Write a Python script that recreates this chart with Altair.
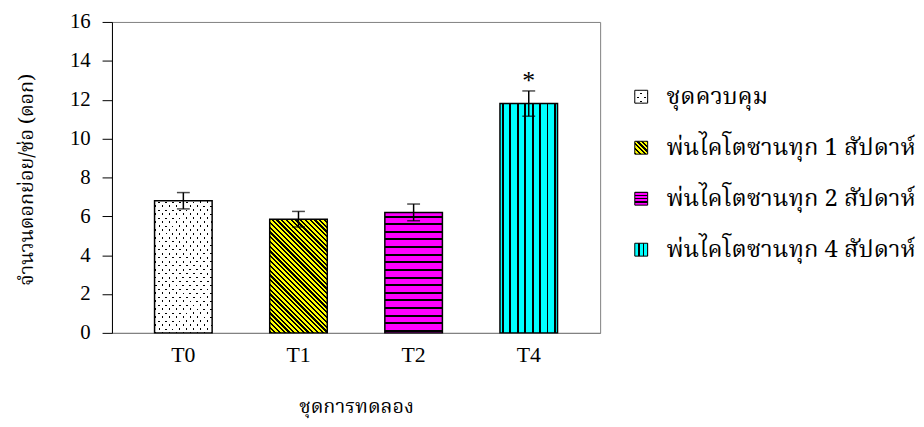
import math
import altair as alt
import pandas as pd

# ---------------- data ----------------
treatments = ["T0", "T1", "T2", "T4"]
means = [6.8, 5.85, 6.2, 11.8]
errors = [0.42, 0.40, 0.43, 0.65]
signif = ["", "", "", "*"]
legend_labels = [
    "ชุดควบคุม",
    "พ่นไคโตซานทุก 1 สัปดาห์",
    "พ่นไคโตซานทุก 2 สัปดาห์",
    "พ่นไคโตซานทุก 4 สัปดาห์",
]
y_ticks = [0, 2, 4, 6, 8, 10, 12, 14, 16]
x_title = "ชุดการทดลอง"
y_title = "จำนวนดอกย่อย/ช่อ (ดอก)"

df = pd.DataFrame({"treatment": treatments, "mean": means, "err": errors, "sig": signif,
                   "label": legend_labels})

# ---------------- layout / style ----------------
W, H = 493, 314
YMAX = 16
P_IN, P_OUT = 0.5, 0.37
STEP = W / (len(treatments) - P_IN + 2 * P_OUT)
BW = STEP * (1 - P_IN)
SW = 13  # legend swatch side
SERIF = "Liberation Serif"
THAI = "Noto Serif Thai, Loma, Norasi, Liberation Serif, serif"
CLEAR = "rgba(255,255,255,0)"


def stripes(w, h, dx, dy, period, thick, on, off, phase=0.0):
    """Linear gradient (bounding-box units) that draws parallel stripes along pixel direction (dx, dy)."""
    gx, gy = dy / h, -dx / w
    g2 = gx * gx + gy * gy
    ts = [(cx * gx + cy * gy) / g2 for cx, cy in [(0, 0), (1, 0), (0, 1), (1, 1)]]
    t0, t1 = min(ts), max(ts)
    n = math.hypot(dx, dy)
    nx, ny = -dy / n, dx / n
    ps = [cx * nx + cy * ny for cx, cy in [(0, 0), (w, 0), (0, h), (w, h)]]
    L = max(ps) - min(ps)
    stops = [{"offset": 0, "color": off}]
    k = phase
    while k < L:
        a = k / L
        b = min((k + thick) / L, 1.0)
        stops += [{"offset": a, "color": off}, {"offset": a, "color": on},
                  {"offset": b, "color": on}, {"offset": b, "color": off}]
        k += period
    stops.append({"offset": 1, "color": off})
    return {"gradient": "linear", "x1": t0 * gx, "y1": t0 * gy, "x2": t1 * gx, "y2": t1 * gy,
            "stops": stops}


def patterns(w, h, legend=False):
    dot_p, dot_t = 5.27, 1.4
    return {
        "T0": [
            "white",
            stripes(w, h, 3.5, 4, dot_p, dot_t, "black", CLEAR),
            stripes(w, h, 3.5, -4, dot_p, dot_t, CLEAR, "white"),
        ],
        "T1": [stripes(w, h, 1, 1, 3.4, 1.6, "black", "#FFFF00")],
        "T2": [stripes(w, h, 1, 0, 3.25, 1.3, "black", "#FF00FF", 3.25 - 0.65) if legend
               else stripes(w, h, 1, 0, 7.7, 2.0, "black", "#FF00FF", 1.0)],
        "T4": [stripes(w, h, 0, 1, 4.33, 1.3, "black", "#00FFFF", 4.33 - 0.65) if legend
               else stripes(w, h, 0, 1, 7.5, 2.0, "black", "#00FFFF", 2.0)],
    }


x_enc = alt.X("treatment:N",
              scale=alt.Scale(domain=treatments, paddingInner=P_IN, paddingOuter=P_OUT),
              axis=alt.Axis(title=x_title, labelAngle=0, ticks=False, domainColor="#808080",
                            labelFont=SERIF, labelFontSize=22, labelColor="black", labelPadding=12,
                            titleFont=THAI, titleFontSize=20, titleFontWeight="normal",
                            titleColor="black", titlePadding=31))
y_axis = alt.Axis(title=y_title, values=y_ticks, tickCount=len(y_ticks), grid=False, tickSize=10,
                  tickColor="black", domainColor="black", labelFont=SERIF, labelFontSize=21,
                  labelColor="black", labelPadding=12, labelFlush=False, labelOverlap=False,
                  titleFont=THAI, titleFontSize=20, titleFontWeight="normal", titleColor="black",
                  titlePadding=33, titleY=H / 2 + 2)
y_scale = alt.Scale(domain=[0, YMAX])

base = alt.Chart(df).encode(x=x_enc)
layers = []
for t, m in zip(treatments, means):
    fills = patterns(BW, m / YMAX * H)[t]
    for i, f in enumerate(fills):
        kw = dict(fill=f)
        if i == len(fills) - 1:
            kw.update(stroke="black", strokeWidth=1.5)
        layers.append(
            base.transform_filter(alt.datum.treatment == t)
            .mark_bar(**kw)
            .encode(y=alt.Y("mean:Q", scale=y_scale, axis=y_axis))
        )

err = base.transform_calculate(lo="datum.mean - datum.err", hi="datum.mean + datum.err")
layers.append(err.mark_rule(color="black", strokeWidth=1.5)
              .encode(y=alt.Y("lo:Q", scale=y_scale, axis=y_axis), y2="hi:Q"))
layers.append(err.mark_tick(color="black", thickness=1.5, size=13)
              .encode(y=alt.Y("lo:Q", scale=y_scale, axis=y_axis)))
layers.append(err.mark_tick(color="black", thickness=1.5, size=13)
              .encode(y=alt.Y("hi:Q", scale=y_scale, axis=y_axis)))
layers.append(err.mark_text(font=SERIF, fontSize=26, baseline="middle", dy=-10, color="black")
              .encode(y=alt.Y("hi:Q", scale=y_scale, axis=y_axis), text="sig:N"))

main = alt.layer(*layers).properties(width=W, height=H,
                                     view=alt.ViewBackground(stroke="#808080", strokeWidth=1))

# ---------------- legend ----------------
leg_y = alt.Y("label:N", scale=alt.Scale(domain=legend_labels, range=[75.5, 230], padding=0),
              axis=None)
leg_layers = []
for t, lab in zip(treatments, legend_labels):
    fills = patterns(SW, SW, legend=True)[t]
    for i, f in enumerate(fills):
        kw = dict(fill=f, size=SW * SW, opacity=1, fillOpacity=1)
        if i == len(fills) - 1:
            kw.update(stroke="black", strokeWidth=1)
        leg_layers.append(
            alt.Chart(df).transform_filter(alt.datum.label == lab)
            .mark_square(**kw)
            .encode(x=alt.value(40.5), y=leg_y)
        )
leg_layers.append(
    alt.Chart(df).mark_text(align="left", baseline="middle", font=THAI, fontSize=24, color="black")
    .encode(x=alt.value(66), y=leg_y, text="label:N")
)
legend = alt.layer(*leg_layers).properties(width=312, height=H,
                                           view=alt.ViewBackground(strokeOpacity=0))

chart = (
    alt.hconcat(main, legend, spacing=0)
    .properties(padding={"left": 8, "top": 0, "right": 0, "bottom": 12}, background="white")
    .configure_view(strokeWidth=1)
)

chart.save("out.html", embed_options={"renderer": "svg", "actions": False})
